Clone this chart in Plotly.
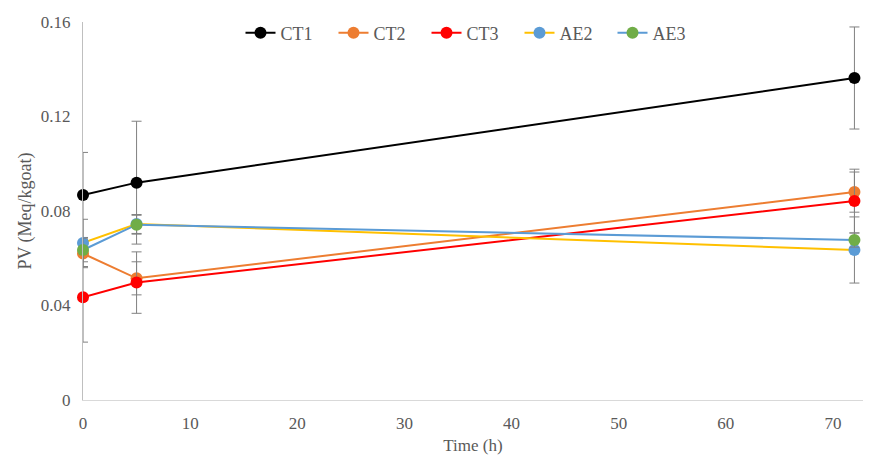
import plotly.graph_objects as go

time_h = [0, 5, 72]
series_names = ["CT1", "CT2", "CT3", "AE2", "AE3"]
ct1 = [0.0868, 0.0920, 0.1363]
ct2 = [0.0620, 0.0515, 0.0880]
ct3 = [0.0435, 0.0497, 0.0842]
ae2 = [0.0665, 0.0745, 0.0635]
ae3 = [0.0635, 0.0742, 0.0677]
ct1_err = [0.018, 0.026, 0.0216]
ct2_err = [0.006, 0.007, 0.0085]
ct3_err = [0.019, 0.013, 0.0135]
ae2_err = [0.010, 0.004, 0.014]
ae3_err = [0.005, 0.004, 0.003]
y_ticks = [0, 0.04, 0.08, 0.12, 0.16]
y_tick_labels = ["0", "0.04", "0.08", "0.12", "0.16"]
x_ticks = [0, 10, 20, 30, 40, 50, 60, 70]

values = [ct1, ct2, ct3, ae2, ae3]
errors = [ct1_err, ct2_err, ct3_err, ae2_err, ae3_err]
line_colors = ["#000000", "#ED7D31", "#FF0000", "#FFC000", "#5B9BD5"]
marker_colors = ["#000000", "#ED7D31", "#FF0000", "#5B9BD5", "#70AD47"]

font_family = "Times New Roman, Liberation Serif, serif"

fig = go.Figure()
for name, v, e, lc, mc in zip(series_names, values, errors, line_colors, marker_colors):
    fig.add_trace(go.Scatter(
        x=time_h, y=v, name=name, mode="lines+markers",
        line=dict(color=lc, width=2),
        marker=dict(color=mc, size=12),
        cliponaxis=False,
        error_y=dict(type="data", array=e, visible=True, color="#808080", thickness=1, width=5),
    ))

fig.update_layout(
    width=872, height=457,
    margin=dict(l=83, r=9, t=22, b=57, autoexpand=False),
    paper_bgcolor="white", plot_bgcolor="white",
    font=dict(family=font_family, size=17, color="#595959"),
    showlegend=True,
    legend=dict(orientation="h", x=0.5, xanchor="center", y=1.02, yanchor="top",
                font=dict(family=font_family, size=18, color="#595959"),
                bgcolor="rgba(0,0,0,0)", entrywidth=48, tracegroupgap=0),
    xaxis=dict(range=[0, 72.8], tickvals=x_ticks, showgrid=False, zeroline=False, automargin=False,
               showline=True, linecolor="#d9d9d9", linewidth=1, ticks="", ticklabelstandoff=8,
               tickfont=dict(family=font_family, size=17, color="#595959"),
               title=dict(text="Time (h)", font=dict(family=font_family, size=17, color="#595959"), standoff=6)),
    yaxis=dict(range=[0, 0.16], tickvals=y_ticks, ticktext=y_tick_labels, showgrid=False, zeroline=False,
               automargin=False,
               showline=True, linecolor="#bfbfbf", linewidth=1, ticks="", ticklabelstandoff=8,
               tickfont=dict(family=font_family, size=17, color="#595959"),
               title=dict(text="PV (Meq/kgoat)", font=dict(family=font_family, size=18, color="#595959"), standoff=4)),
)

fig.write_html("out.html")
